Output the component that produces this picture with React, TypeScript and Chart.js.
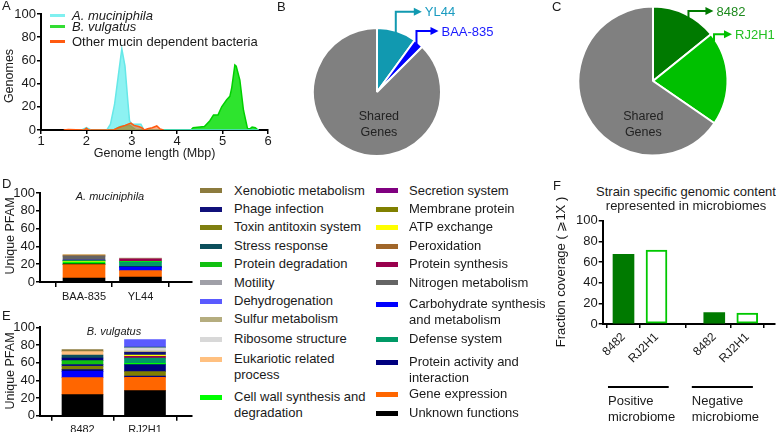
import React, { useEffect, useRef } from 'react';
import { Chart, registerables } from 'chart.js';

Chart.register(...registerables);

const FONT = "'Liberation Sans', Arial, Helvetica, sans-serif";
const INK = '#1a1a1a';

// ---------------- Panel A: genome length distribution ----------------
const aSeriesNames = ['A. muciniphila', 'B. vulgatus', 'Other mucin dependent bacteria'];
const aXTicks = [1, 2, 3, 4, 5, 6];
const yTicks = [0, 20, 40, 60, 80, 100];
const aMucLen = [1.6, 1.9, 2.0, 2.1, 2.45, 2.53, 2.62, 2.7, 2.78, 2.85, 2.91, 2.95, 3.0, 3.1, 3.2, 3.27, 3.5, 4.5, 5.8];
const aMucGenomes = [0, 0, 2, 0, 0, 5, 22, 46, 70, 55, 26, 8, 5, 5, 5, 0, 0, 0, 0];
const aVulLen = [1.6, 2.6, 2.75, 2.95, 3.1, 4.3, 4.35, 4.6, 4.72, 4.8, 4.9, 4.98, 5.09, 5.16, 5.2, 5.27, 5.3, 5.38, 5.46, 5.55, 5.6, 5.65, 5.72, 5.78];
const aVulGenomes = [0, 0, 3, 4, 0, 0, 2, 3, 8, 13, 13, 20, 26, 29, 36, 56, 55, 43, 17, 1, 1, 2.5, 2, 0];
const aOtherLen = [1.5, 1.6, 1.95, 2.0, 2.05, 2.6, 2.7, 2.85, 2.98, 3.05, 3.15, 3.22, 3.28, 3.35, 3.45, 3.55, 3.62, 3.7];
const aOtherGenomes = [0, 0.5, 0, 1.5, 0, 0, 2, 4, 6, 4, 3, 2, 0, 1, 2, 3.5, 1, 0];

// ---------------- Panels B, C: pies ----------------
const bPieLabels = ['YL44', 'BAA-835', 'Shared Genes'];
const bPieValues = [10, 2.5, 87.5];
const cPieLabels = ['8482', 'RJ2H1', 'Shared Genes'];
const cPieValues = [14.2, 20.4, 65.4];

// ---------------- Panels D, E: unique PFAM stacks ----------------
const pfamCategories = [
  'Xenobiotic metabolism', 'Phage infection', 'Toxin antitoxin system', 'Stress response',
  'Protein degradation', 'Motility', 'Dehydrogenation', 'Sulfur metabolism', 'Ribosome structure',
  'Eukariotic related process', 'Cell wall synthesis and degradation',
  'Secretion system', 'Membrane protein', 'ATP exchange', 'Peroxidation', 'Protein synthesis',
  'Nitrogen metabolism', 'Carbohydrate synthesis and metabolism', 'Defense system',
  'Protein activity and interaction', 'Gene expression', 'Unknown functions',
];
const pfamColors = [
  '#8C7B3E', '#10107A', '#7F7F10', '#0C4F5C', '#11C011', '#A0A0A8', '#5A5AFF', '#B5AD7F', '#D8D8D8',
  '#FFC080', '#00FF00', '#800080', '#808000', '#FFFF00', '#A0662A', '#99004D', '#646464', '#0000FF',
  '#009966', '#00007F', '#FF6600', '#000000',
];

const dStrains = ['BAA-835', 'YL44'];
const dBaaCats = ['Unknown functions', 'Gene expression', 'Unknown functions', 'Cell wall synthesis and degradation', 'ATP exchange', 'Protein degradation', 'Carbohydrate synthesis and metabolism', 'Nitrogen metabolism', 'Peroxidation', 'Sulfur metabolism', 'Eukariotic related process'];
const dBaaVals = [4.5, 15, 0.8, 2, 0.7, 1, 0.6, 4.5, 0.5, 1, 0.5];
const dYl44Cats = ['Unknown functions', 'Gene expression', 'Carbohydrate synthesis and metabolism', 'Protein activity and interaction', 'Defense system', 'Cell wall synthesis and degradation', 'Protein synthesis', 'Sulfur metabolism'];
const dYl44Vals = [5.6, 7.1, 3.7, 0.8, 5.2, 0.7, 3, 0.7];

const eStrains = ['8482', 'RJ2H1'];
const e8482Cats = ['Unknown functions', 'Gene expression', 'Carbohydrate synthesis and metabolism', 'Protein activity and interaction', 'Membrane protein', 'Phage infection', 'Protein degradation', 'Protein activity and interaction', 'Stress response', 'Eukariotic related process', 'Xenobiotic metabolism'];
const e8482Vals = [23.8, 19.2, 7.2, 1.9, 3.8, 1.9, 4.5, 3, 3.4, 3.8, 2.3];
const eRj2h1Cats = ['Unknown functions', 'Gene expression', 'Protein activity and interaction', 'Membrane protein', 'Protein activity and interaction', 'Cell wall synthesis and degradation', 'Defense system', 'Protein synthesis', 'ATP exchange', 'Phage infection', 'Sulfur metabolism', 'Ribosome structure', 'Stress response', 'Dehydrogenation'];
const eRj2h1Vals = [28.3, 15.1, 1.5, 4.9, 7.9, 1.5, 6, 1.9, 1.5, 3, 1.5, 3.8, 0.8, 8.3];

// ---------------- Panel F ----------------
const fStrains = ['8482', 'RJ2H1'];
const fGroups = ['Positive microbiome', 'Negative microbiome'];
const f8482Coverage = [67.5, 11];
const fRj2h1Coverage = [71.5, 10.5];

// ---------------- layout constants ----------------
const dBarPos = [1, 2];
const eBarPos = [1, 2];
const fBarPos = [[1, 2], [3.75, 4.75]];
const fGroupSpan = [[0.53, 2.37], [3.07, 4.92]];
const legendCol1Y = [190.7, 209, 227.3, 246.3, 264.3, 282.7, 301, 319.3, 339.3, 359, 397];
const legendCol2Y = [190.7, 209, 227.3, 246.3, 264.3, 282.7, 304, 339, 362, 394.3, 413.3];

const colorOf = (name: string) => pfamColors[pfamCategories.indexOf(name)];

// y tick labels drawn from the chart's own y scale
const yLabels = {
  id: 'yLabels',
  afterDraw(chart: any) {
    const s = chart.scales.y;
    const ctx = chart.ctx;
    ctx.save();
    ctx.fillStyle = INK;
    ctx.font = `13px ${FONT}`;
    ctx.textAlign = 'right';
    ctx.textBaseline = 'middle';
    s.ticks.forEach((t: any) => ctx.fillText(String(t.value), s.right - 5, s.getPixelForValue(t.value)));
    ctx.restore();
  },
};

const axisStyle = (tickLen: number) => ({
  border: { display: true, color: '#000', width: 2 },
  grid: { display: true, drawOnChartArea: false, drawTicks: true, tickLength: tickLen, color: '#000', lineWidth: 1.5 },
});

const percentAxis = (tickLen: number, width: number) => ({
  type: 'linear',
  min: 0,
  max: 100,
  ...axisStyle(tickLen),
  afterBuildTicks: (s: any) => { s.ticks = yTicks.map((v) => ({ value: v })); },
  ticks: { display: false, autoSkip: false },
  title: { display: false },
  afterFit: (s: any) => { s.width = width; },
});

function makeA() {
  const pts = (xs: number[], ys: number[]) => xs.map((x, i) => ({ x, y: ys[i] }));
  const common = { fill: 'origin', pointRadius: 0, borderWidth: 1.5, tension: 0 };
  return {
    type: 'line',
    data: {
      datasets: [
        { ...common, label: aSeriesNames[2], data: pts(aOtherLen, aOtherGenomes), borderColor: '#FF5A10', backgroundColor: 'rgba(255,90,16,0.5)' },
        { ...common, label: aSeriesNames[0], data: pts(aMucLen, aMucGenomes), borderColor: '#66E8E8', backgroundColor: 'rgba(80,235,235,0.65)' },
        { ...common, label: aSeriesNames[1], data: pts(aVulLen, aVulGenomes), borderColor: '#00D000', backgroundColor: 'rgba(0,222,0,0.82)' },
      ],
    },
    options: {
      responsive: false,
      animation: false,
      layout: { padding: { top: 14, right: 8, left: 0, bottom: 0 } },
      plugins: { legend: { display: false }, tooltip: { enabled: false } },
      scales: {
        x: {
          type: 'linear', min: aXTicks[0], max: aXTicks[aXTicks.length - 1],
          ...axisStyle(4),
          afterBuildTicks: (s: any) => { s.ticks = aXTicks.map((v) => ({ value: v })); },
          ticks: { autoSkip: false, color: INK, padding: 0, font: { family: FONT, size: 13 } },
          title: { display: true, text: 'Genome length (Mbp)', color: INK, font: { family: FONT, size: 12.5 }, padding: { top: 0, bottom: 4 } },
          afterFit: (s: any) => { s.height = 35; },
        },
        y: percentAxis(4, 41),
      },
    },
    plugins: [yLabels],
  };
}

const pieNotes = {
  id: 'pieNotes',
  afterDraw(chart: any, _args: any, opts: any) {
    const ctx = chart.ctx;
    const meta = chart.getDatasetMeta(0);
    const labels = chart.data.labels as string[];
    ctx.save();
    (opts.arrows || []).forEach((a: any) => {
      const arc = meta.data[a.slice];
      const p = arc.getProps(['x', 'y', 'startAngle', 'endAngle', 'outerRadius'], true);
      const ang = p.startAngle + (p.endAngle - p.startAngle) * a.frac;
      const sx = p.x + p.outerRadius * a.inset * Math.cos(ang);
      const sy = p.y + p.outerRadius * a.inset * Math.sin(ang);
      const ly = p.y - p.outerRadius + a.rise;
      const ex = sx + a.run;
      ctx.strokeStyle = a.color;
      ctx.fillStyle = a.color;
      ctx.lineWidth = 2;
      ctx.beginPath();
      ctx.moveTo(sx, sy);
      ctx.lineTo(sx, ly);
      ctx.lineTo(ex - 6, ly);
      ctx.stroke();
      ctx.beginPath();
      ctx.moveTo(ex, ly);
      ctx.lineTo(ex - 8, ly - 4);
      ctx.lineTo(ex - 8, ly + 4);
      ctx.closePath();
      ctx.fill();
      ctx.fillStyle = a.textColor;
      ctx.font = `13px ${FONT}`;
      ctx.textAlign = 'left';
      ctx.textBaseline = 'middle';
      ctx.fillText(labels[a.slice], ex + 3, ly + 1);
    });
    const sh = opts.shared;
    if (sh) {
      const arc = meta.data[sh.slice];
      const p = arc.getProps(['x', 'y', 'outerRadius'], true);
      const words = labels[sh.slice].split(' ');
      ctx.fillStyle = '#222';
      ctx.font = `12.5px ${FONT}`;
      ctx.textAlign = 'center';
      ctx.textBaseline = 'middle';
      const cx = p.x + sh.dx * p.outerRadius;
      const cy = p.y + sh.dy * p.outerRadius;
      words.forEach((w: string, i: number) => ctx.fillText(w, cx, cy + (i - (words.length - 1) / 2) * 16));
    }
    ctx.restore();
  },
};

function makePie(labels: string[], values: number[], colors: string[], padding: any, notes: any) {
  return {
    type: 'pie',
    data: { labels, datasets: [{ data: values, backgroundColor: colors, borderColor: '#ffffff', borderWidth: 2 }] },
    options: {
      responsive: false,
      animation: false,
      layout: { padding },
      plugins: { legend: { display: false }, tooltip: { enabled: false }, pieNotes: notes },
    },
    plugins: [pieNotes],
  };
}

function makeStack(strains: string[], pos: number[], cats: string[][], vals: number[][], xMin: number, xMax: number, padTop: number, xHeight: number, barW: number) {
  const datasets: any[] = [];
  cats.forEach((list, b) => {
    list.forEach((name, s) => {
      datasets.push({
        label: name,
        data: pos.map((_, j) => (j === b ? vals[b][s] : null)),
        backgroundColor: colorOf(name),
        borderWidth: 0,
        barThickness: barW,
      });
    });
  });
  return {
    type: 'bar',
    data: { labels: pos, datasets },
    options: {
      responsive: false,
      animation: false,
      layout: { padding: { top: padTop, right: 8, left: 0, bottom: 0 } },
      plugins: { legend: { display: false }, tooltip: { enabled: false } },
      scales: {
        x: {
          type: 'linear', min: xMin, max: xMax, offset: false, stacked: true,
          ...axisStyle(5),
          afterBuildTicks: (s: any) => { s.ticks = pos.map((v) => ({ value: v })); },
          ticks: { autoSkip: false, color: INK, padding: 3, font: { family: FONT, size: 11 }, callback: (_v: any, i: number) => strains[i] },
          afterFit: (s: any) => { s.height = xHeight; },
        },
        y: { ...percentAxis(4, 40), stacked: true },
      },
    },
    plugins: [yLabels],
  };
}

const groupNotes = {
  id: 'groupNotes',
  afterDraw(chart: any, _a: any, opts: any) {
    const ctx = chart.ctx;
    const xs = chart.scales.x;
    const base = chart.chartArea.bottom;
    ctx.save();
    opts.groups.forEach((g: string, i: number) => {
      const x1 = xs.getPixelForValue(opts.spans[i][0]);
      const x2 = xs.getPixelForValue(opts.spans[i][1]);
      ctx.strokeStyle = '#000';
      ctx.lineWidth = 2;
      ctx.beginPath();
      ctx.moveTo(x1, base + 63);
      ctx.lineTo(x2, base + 63);
      ctx.stroke();
      ctx.fillStyle = INK;
      ctx.font = `13px ${FONT}`;
      ctx.textAlign = 'left';
      ctx.textBaseline = 'middle';
      g.split(' ').forEach((w, k) => ctx.fillText(w, x1, base + 77 + k * 16.3));
    });
    ctx.restore();
  },
};

function makeF() {
  const tickPos = fBarPos.flat();
  return {
    type: 'bar',
    data: {
      datasets: [
        {
          label: fStrains[0],
          data: fBarPos.map((g, i) => ({ x: g[0], y: f8482Coverage[i] })),
          backgroundColor: '#007A00', borderWidth: 0, barThickness: 21, grouped: false,
        },
        {
          label: fStrains[1],
          data: fBarPos.map((g, i) => ({ x: g[1], y: fRj2h1Coverage[i] })),
          backgroundColor: '#ffffff', borderColor: '#00C800', borderWidth: 2, borderSkipped: false, barThickness: 21, grouped: false,
        },
      ],
    },
    options: {
      responsive: false,
      animation: false,
      layout: { padding: { top: 10.7, right: 1, left: 0, bottom: 0 } },
      plugins: { legend: { display: false }, tooltip: { enabled: false }, groupNotes: { groups: fGroups, spans: fGroupSpan } },
      scales: {
        x: {
          type: 'linear', min: 0.37, max: 5.59, offset: false,
          ...axisStyle(4),
          afterBuildTicks: (s: any) => { s.ticks = tickPos.map((v) => ({ value: v })); },
          ticks: { autoSkip: false, color: INK, padding: 2, minRotation: 45, maxRotation: 45, font: { family: FONT, size: 12 }, callback: (_v: any, i: number) => fStrains[i % 2] },
          afterFit: (s: any) => { s.height = 108; },
        },
        y: percentAxis(4, 54.7),
      },
    },
    plugins: [groupNotes, yLabels],
  };
}

function ChartBox({ left, top, width, height, make }: { left: number; top: number; width: number; height: number; make: () => any }) {
  const ref = useRef<HTMLCanvasElement | null>(null);
  useEffect(() => {
    if (!ref.current) return;
    const chart = new Chart(ref.current, make());
    return () => chart.destroy();
  }, []);
  return (
    <canvas
      ref={ref}
      width={width}
      height={height}
      style={{ position: 'absolute', left, top, width, height, display: 'block' }}
    />
  );
}

function Txt({ x, y, size = 13, italic = false, align = 'left', color = INK, children }: any) {
  return (
    <div
      style={{
        position: 'absolute',
        left: x,
        top: y - size / 2,
        fontFamily: FONT,
        fontSize: size,
        lineHeight: `${size}px`,
        fontStyle: italic ? 'italic' : 'normal',
        color,
        whiteSpace: 'nowrap',
        transform: align === 'center' ? 'translateX(-50%)' : undefined,
      }}
    >
      {children}
    </div>
  );
}

function VTxt({ x, y, size = 13, children }: any) {
  return (
    <div style={{ position: 'absolute', left: x, top: y, width: 0, height: 0 }}>
      <div
        style={{
          position: 'absolute', left: 0, top: 0, fontFamily: FONT, fontSize: size, lineHeight: `${size}px`, color: INK,
          whiteSpace: 'nowrap', transform: 'translate(-50%, -50%) rotate(-90deg)',
        }}
      >
        {children}
      </div>
    </div>
  );
}

function PfamLegend() {
  const col1 = pfamCategories.slice(0, 11);
  const col2 = pfamCategories.slice(11);
  const item = (name: string, y: number, sx: number, tx: number, tw: number) => (
    <React.Fragment key={name}>
      <div style={{ position: 'absolute', left: sx, top: y - 2.5, width: 22, height: 5, background: colorOf(name) }} />
      <div
        style={{
          position: 'absolute', left: tx, top: y - 8, width: tw, fontFamily: FONT, fontSize: 13,
          lineHeight: '16px', color: INK,
        }}
      >
        {name}
      </div>
    </React.Fragment>
  );
  return (
    <>
      {col1.map((n, i) => item(n, legendCol1Y[i], 200, 234, 140))}
      {col2.map((n, i) => item(n, legendCol2Y[i], 376, 409, 142))}
    </>
  );
}

function ALegend() {
  const colors = ['#80F0F0', '#33DD33', '#FF5A10'];
  const ys = [15, 26, 41.7];
  return (
    <>
      {aSeriesNames.map((n, i) => (
        <React.Fragment key={n}>
          <div style={{ position: 'absolute', left: 50, top: ys[i] - 1.5, width: 15, height: 3, background: colors[i] }} />
          <Txt x={72} y={ys[i]} italic={i < 2}>{n}</Txt>
        </React.Fragment>
      ))}
    </>
  );
}

export default function App() {
  return (
    <div style={{ position: 'fixed', left: 0, top: 0, width: 776, height: 432, background: '#fff', overflow: 'hidden' }}>
      <ChartBox left={0} top={0} width={276} height={165} make={makeA} />
      <ALegend />
      <ChartBox
        left={300} top={0} width={200} height={170}
        make={() => makePie(bPieLabels, bPieValues, ['#1199B0', '#0000FF', '#808080'], { left: 12, top: 27, right: 58, bottom: 13 }, {
          arrows: [
            { slice: 0, frac: 0.5, inset: 0.95, rise: -16.3, run: 26, color: '#1199B0', textColor: '#1A9BC0' },
            { slice: 1, frac: 0.5, inset: 0.95, rise: 3, run: 22, color: '#0000FF', textColor: '#1A1AFF' },
          ],
          shared: { slice: 2, dx: 0.03, dy: 0.51 },
        })}
      />
      <ChartBox
        left={560} top={0} width={216} height={170}
        make={() => makePie(cPieLabels, cPieValues, ['#007A00', '#00C000', '#808080'], { left: 17.5, top: 5.5, right: 47.5, bottom: 13.5 }, {
          arrows: [
            { slice: 0, frac: 0.575, inset: 0.97, rise: 4.5, run: 25, color: '#007A00', textColor: '#1E8A1E' },
            { slice: 1, frac: 0.076, inset: 0.98, rise: 27.8, run: 18, color: '#00C000', textColor: '#22C022' },
          ],
          shared: { slice: 2, dx: -0.13, dy: 0.58 },
        })}
      />
      <ChartBox
        left={0} top={180} width={200} height={125}
        make={() => makeStack(dStrains, dBarPos, [dBaaCats, dYl44Cats], [dBaaVals, dYl44Vals], 0.221, 2.912, 13, 23, 42)}
      />
      <ChartBox
        left={0} top={314} width={200} height={118}
        make={() => makeStack(eStrains, eBarPos, [e8482Cats, eRj2h1Cats], [e8482Vals, eRj2h1Vals], 0.32, 2.752, 13.3, 16.3, 41)}
      />
      <ChartBox left={548} top={210} width={228} height={222} make={makeF} />
      <PfamLegend />

      <VTxt x={8.5} y={76} size={12.5}>Genomes</VTxt>
      <VTxt x={10} y={236} size={12.5}>Unique PFAM</VTxt>
      <VTxt x={10} y={371} size={12.5}>Unique PFAM</VTxt>
      <VTxt x={560} y={272}>Fraction coverage ( ⩾1X )</VTxt>

      <Txt x={2} y={5}>A</Txt>
      <Txt x={277} y={6}>B</Txt>
      <Txt x={552} y={6}>C</Txt>
      <Txt x={2} y={183}>D</Txt>
      <Txt x={2} y={315}>E</Txt>
      <Txt x={553} y={185}>F</Txt>
      <Txt x={110} y={196} size={11} italic align="center">A. muciniphila</Txt>
      <Txt x={114} y={331} size={11} italic align="center">B. vulgatus</Txt>
      <Txt x={686} y={191} align="center">Strain specific genomic content</Txt>
      <Txt x={686} y={205.5} align="center">represented in microbiomes</Txt>
    </div>
  );
}
